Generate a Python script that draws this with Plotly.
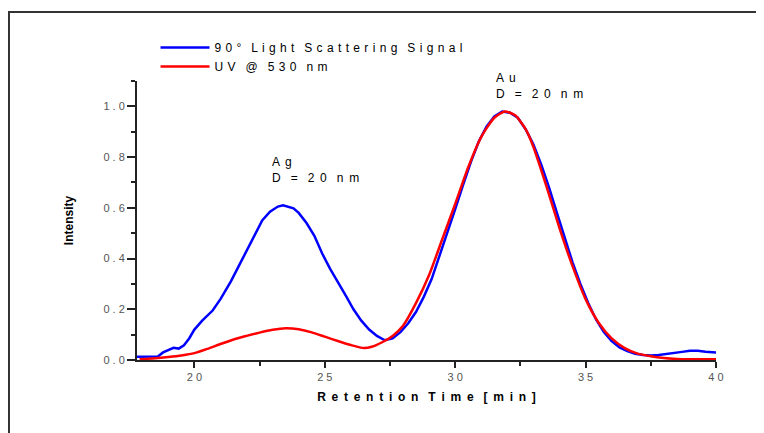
import plotly.graph_objects as go

# ---- data ----
ls_time = [17.8, 18.0, 18.3, 18.6, 18.8, 19.0, 19.2, 19.4, 19.6, 19.8, 20.0, 20.3, 20.7,
           21.0, 21.4, 21.7, 22.0, 22.3, 22.6, 22.9, 23.2, 23.4, 23.6, 23.8, 24.0, 24.3,
           24.6, 24.9, 25.2, 25.5, 25.8, 26.1, 26.4, 26.7, 27.0, 27.3, 27.6, 27.9, 28.2,
           28.5, 28.8, 29.1, 29.4, 29.7, 30.0, 30.3, 30.6, 30.9, 31.2, 31.5, 31.8, 32.1,
           32.4, 32.7, 33.0, 33.3, 33.6, 33.9, 34.2, 34.5, 34.8, 35.1, 35.4, 35.7, 36.0,
           36.3, 36.6, 36.9, 37.2, 37.5, 37.8, 38.1, 38.4, 38.7, 39.0, 39.3, 39.6, 39.9, 40.0]
ls_signal = [0.013, 0.014, 0.013, 0.014, 0.030, 0.038, 0.048, 0.045, 0.058, 0.085, 0.12,
             0.155, 0.195, 0.24, 0.31, 0.37, 0.43, 0.49, 0.55, 0.585, 0.605, 0.61, 0.605,
             0.598, 0.58, 0.54, 0.49, 0.42, 0.36, 0.31, 0.255, 0.20, 0.155, 0.12, 0.095,
             0.078, 0.085, 0.11, 0.145, 0.19, 0.25, 0.32, 0.41, 0.50, 0.595, 0.69, 0.78,
             0.86, 0.92, 0.96, 0.98, 0.975, 0.955, 0.91, 0.85, 0.77, 0.68, 0.58, 0.48,
             0.385, 0.30, 0.225, 0.16, 0.11, 0.075, 0.05, 0.035, 0.025, 0.02, 0.018, 0.02,
             0.025, 0.028, 0.032, 0.036, 0.036, 0.033, 0.031, 0.030]

uv_time = [17.9, 18.5, 19.0, 19.5, 20.0, 20.5, 21.0, 21.5, 22.0, 22.5, 23.0, 23.5, 24.0,
           24.5, 25.0, 25.5, 26.0, 26.5, 26.8, 27.2, 27.6, 28.0, 28.5, 29.0, 29.5, 30.0,
           30.5, 31.0, 31.5, 31.9, 32.3, 32.7, 33.0, 33.5, 34.0, 34.5, 35.0, 35.5, 36.0,
           36.5, 37.0, 37.5, 38.0, 38.5, 39.0, 40.0]
uv_signal = [0.003, 0.007, 0.012, 0.018, 0.027, 0.044, 0.063, 0.081, 0.095, 0.108, 0.119,
             0.125, 0.121, 0.109, 0.092, 0.075, 0.059, 0.047, 0.052, 0.070, 0.095, 0.135,
             0.225, 0.335, 0.475, 0.615, 0.76, 0.88, 0.955, 0.98, 0.965, 0.91, 0.84, 0.685,
             0.52, 0.37, 0.24, 0.147, 0.085, 0.047, 0.025, 0.015, 0.008, 0.004, 0.003, 0.003]

x_tick_vals = [20, 25, 30, 35, 40]
x_tick_text = ["20", "25", "30", "35", "40"]
y_tick_vals = [0.0, 0.2, 0.4, 0.6, 0.8, 1.0]
y_tick_text = ["0.0", "0.2", "0.4", "0.6", "0.8", "1.0"]

series_names = ["90° Light Scattering Signal", "UV @ 530 nm"]
x_title = "Retention Time [min]"
y_title = "Intensity"
# (first line, second line, x in minutes, y in paper fraction of plot height)
peak_labels = [("Ag", "D = 20 nm", 22.9, 0.741), ("Au", "D = 20 nm", 31.5, 1.043)]


def spaced(s, gap=" ", word="\u00a0\u00a0"):
    """Letter-spaced look of the original (text stays real text)."""
    words = s.split(" ")
    return word.join(gap.join(list(w)) for w in words)


FONT = "Liberation Sans, Arial, sans-serif"
WIDE = "\u00a0\u00a0\u00a0"

fig = go.Figure()
fig.add_trace(go.Scatter(x=ls_time, y=ls_signal, mode="lines",
                         name=spaced(series_names[0], gap=" \u200a", word=WIDE),
                         line=dict(color="#0000ff", width=2.5)))
fig.add_trace(go.Scatter(x=uv_time, y=uv_signal, mode="lines",
                         name=spaced(series_names[1], gap=" \u200a", word=WIDE),
                         line=dict(color="#ff0000", width=2.5, shape="spline", smoothing=0.6)))

for top, bottom, x, y in peak_labels:
    fig.add_annotation(x=x, y=y, xref="x", yref="paper", xanchor="left", yanchor="top",
                       align="left", showarrow=False,
                       text=spaced(top, gap=" \u2009") + "<br>" +
                       spaced(bottom, gap=" \u2009", word=WIDE),
                       font=dict(family=FONT, size=12, color="#000"))

# outer frame of the original figure (partly cut off)
fig.add_shape(type="rect", xref="paper", yref="paper",
              x0=-0.2211, x1=1.5, y0=-0.6, y1=1.2473,
              line=dict(color="#333333", width=2), fillcolor="rgba(0,0,0,0)")

axis_common = dict(showline=True, linecolor="#222222", linewidth=2,
                   ticks="outside", tickcolor="#222222", tickwidth=1.5,
                   showgrid=False, zeroline=False,
                   tickfont=dict(family=FONT, size=11, color="#555555"))

fig.update_xaxes(range=[17.8, 40], tickvals=x_tick_vals,
                 ticktext=[spaced(t) for t in x_tick_text], ticklen=6,
                 minor=dict(ticks="outside", dtick=2.5, tick0=0, ticklen=4,
                            tickcolor="#222222", tickwidth=1.5),
                 title=dict(text="<b>" + spaced(x_title, gap=" \u2009", word=WIDE) + "</b>",
                            standoff=10, font=dict(family=FONT, size=12, color="#000")),
                 **axis_common)
fig.update_yaxes(range=[0, 1.1], tickvals=y_tick_vals,
                 ticktext=[spaced(t) for t in y_tick_text], ticklen=8,
                 minor=dict(ticks="outside", dtick=0.1, tick0=0, ticklen=4,
                            tickcolor="#222222", tickwidth=1.5),
                 title=dict(text="<b>" + y_title + "</b>", standoff=27,
                            font=dict(family=FONT, size=12, color="#000")),
                 **axis_common)

fig.update_layout(
    width=764, height=433,
    margin=dict(l=129, r=56, t=73, b=81),
    paper_bgcolor="white", plot_bgcolor="white",
    showlegend=True,
    legend=dict(x=0.032, y=1.172, xanchor="left", yanchor="top",
                bgcolor="rgba(0,0,0,0)", borderwidth=0, itemwidth=49,
                font=dict(family=FONT, size=12, color="#000"), tracegroupgap=0),
)

fig.write_html("out.html")
